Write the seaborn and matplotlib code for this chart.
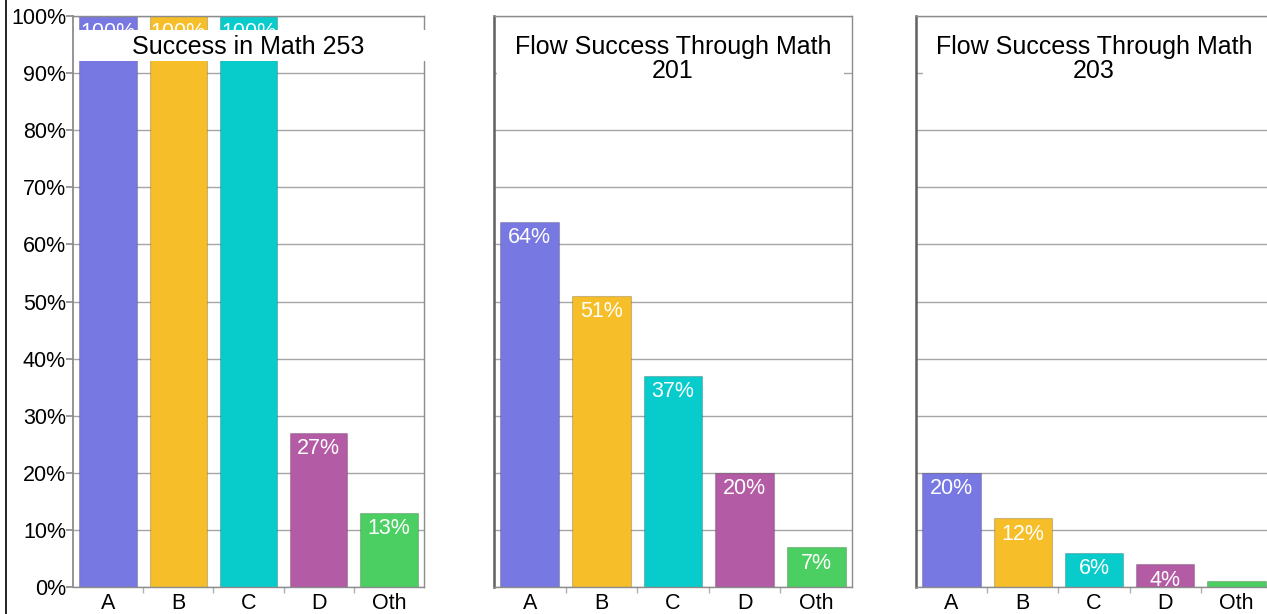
import matplotlib
matplotlib.use("Agg")
import matplotlib.pyplot as plt
from matplotlib.patches import Rectangle
from matplotlib.lines import Line2D
import seaborn as sns
import pandas as pd

grades = ["A", "B", "C", "D", "Oth"]
grade_colors = ["#7878E2", "#F6BE28", "#08CCCC", "#B35BA5", "#4BCF62"]

titles = [
    "Success in Math 253",
    "Flow Success Through Math\n201",
    "Flow Success Through Math\n203",
]
math253 = [100, 100, 100, 27, 13]
math201 = [64, 51, 37, 20, 7]
math203 = [20, 12, 6, 4, 1]
panel_values = [math253, math201, math203]

sns.set_theme(style="white")
plt.rcParams["font.family"] = ["Liberation Sans", "DejaVu Sans"]

fig = plt.figure(figsize=(12.67, 6.14), dpi=100)

# axes placement (figure fractions) and title box spans (axes fractions)
axes_rects = [
    [73 / 1267, 27 / 614, 351 / 1267, 571 / 614],
    [494 / 1267, 27 / 614, 358 / 1267, 571 / 614],
    [916 / 1267, 27 / 614, 356 / 1267, 571 / 614],
]
box_spans = [(0.003, 1.008), (0.008, 0.978), (0.02, 0.99)]

for i, (title, values) in enumerate(zip(titles, panel_values)):
    ax = fig.add_axes(axes_rects[i])
    df = pd.DataFrame({"grade": grades, "pct": values})
    sns.barplot(
        data=df, x="grade", y="pct", hue="grade", palette=grade_colors,
        hue_order=grades, order=grades, width=0.82, saturation=1,
        legend=False, ax=ax, edgecolor="#00000030", linewidth=0.8,
    )
    ax.set_xlim(-0.5, 4.5)
    ax.set_ylim(0, 100)
    ax.set_xlabel("")
    ax.set_ylabel("")
    ax.set_yticks(range(0, 101, 10))
    ax.yaxis.grid(True, color="#a6a6a6", linewidth=1)
    ax.set_axisbelow(True)

    for s in ax.spines.values():
        s.set_color("#8c8c8c")
        s.set_linewidth(1.0)
    if i == 0:
        ax.set_yticklabels([f"{v}%" for v in range(0, 101, 10)])
        ax.tick_params(axis="y", length=5, color="#8c8c8c", labelsize=15.5,
                       pad=0, left=True, labelcolor="black")
        ax.spines["left"].set_linewidth(1.3)
    else:
        ax.tick_params(axis="y", left=False, labelleft=False)
        ax.spines["left"].set_color("#606060")
        ax.spines["left"].set_linewidth(1.8)

    ax.tick_params(axis="x", length=0, labelsize=15.5, pad=4, labelcolor="black")
    ax.set_xticks([0.5, 1.5, 2.5, 3.5], minor=True)
    ax.tick_params(axis="x", which="minor", bottom=True, length=4,
                   color="#b0b0b0", width=1)

    for j, v in enumerate(values):
        t = ax.annotate(f"{v}%", (j, v), xytext=(0, -4),
                        textcoords="offset points", ha="center", va="top",
                        color="white", fontsize=15.5, zorder=4,
                        annotation_clip=False)
        t.set_clip_box(ax.bbox)
        t.set_clip_on(True)

    n_lines = title.count("\n") + 1
    top = 0.9755
    bottom = 0.921 if n_lines == 1 else 0.877
    x0, x1 = box_spans[i]
    ax.add_patch(Rectangle((x0, bottom), x1 - x0, top - bottom,
                           transform=ax.transAxes, facecolor="white",
                           edgecolor="none", zorder=5, clip_on=False))
    ax.text(0.5, 0.966, title, transform=ax.transAxes, ha="center", va="top",
            fontsize=18, linespacing=1.0, color="black", zorder=6)

fig.add_artist(Line2D([5.5 / 1267, 5.5 / 1267], [0, 1], color="black",
                      linewidth=1.2))

fig.savefig("out.png", dpi=100)
